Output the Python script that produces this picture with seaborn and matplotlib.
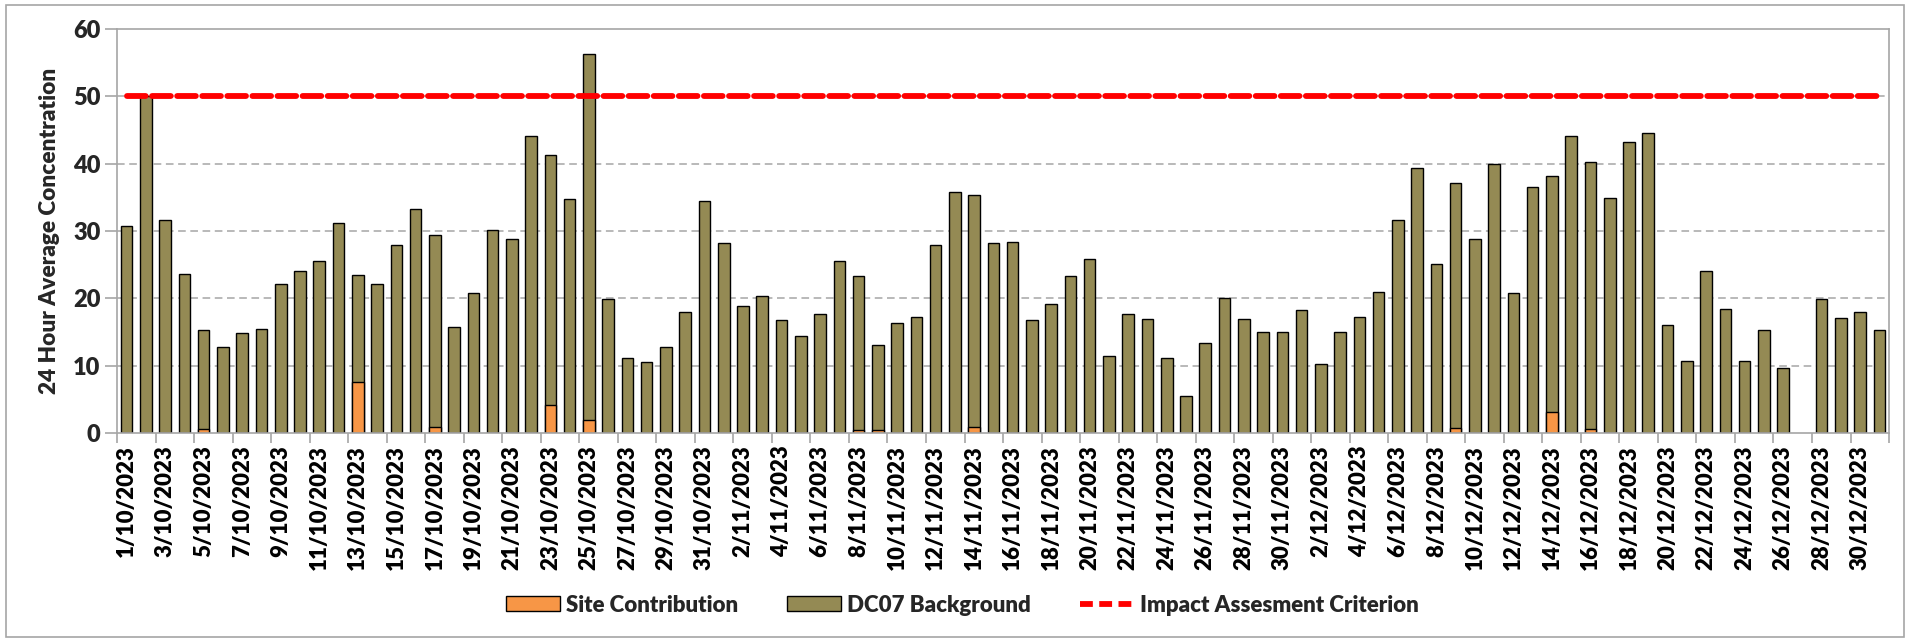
import numpy as np
import pandas as pd
import matplotlib
matplotlib.use("Agg")
import matplotlib.pyplot as plt
import seaborn as sns
from matplotlib.patches import Patch, Rectangle
from matplotlib.lines import Line2D

# ---------------- data ----------------
dates = [f"{d.day}/{d.month}/{d.year}" for d in pd.date_range("2023-10-01", "2023-12-31", freq="D")]

site_contribution = [
    0, 0, 0, 0, 0.6, 0, 0, 0, 0, 0,
    0, 0, 7.6, 0, 0, 0, 0.9, 0, 0, 0,
    0, 0, 4.1, 0, 1.9, 0, 0, 0, 0, 0,
    0, 0, 0, 0, 0, 0, 0, 0, 0.5, 0.4,
    0, 0, 0, 0, 0.9, 0, 0, 0, 0, 0,
    0, 0, 0, 0, 0, 0, 0, 0, 0, 0,
    0, 0, 0, 0, 0, 0, 0, 0, 0, 0.8,
    0, 0, 0, 0, 3.1, 0, 0.6, 0, 0, 0,
    0, 0, 0, 0, 0, 0, 0, np.nan, 0, 0,
    0, 0,
]

dc07_background = [
    30.8, 50.0, 31.7, 23.6, 14.7, 12.8, 14.8, 15.5, 22.2, 24.0,
    25.6, 31.2, 15.8, 22.2, 27.9, 33.2, 28.5, 15.7, 20.8, 30.2,
    28.8, 44.1, 37.2, 34.7, 54.4, 19.9, 11.1, 10.5, 12.7, 17.9,
    34.5, 28.2, 18.8, 20.3, 16.8, 14.4, 17.6, 25.6, 22.8, 12.7,
    16.3, 17.3, 27.9, 35.8, 34.5, 28.2, 28.4, 16.8, 19.2, 23.3,
    25.8, 11.4, 17.7, 17.0, 11.1, 5.5, 13.3, 20.1, 17.0, 15.0,
    15.0, 18.3, 10.3, 15.0, 17.3, 21.0, 31.7, 39.3, 25.1, 36.3,
    28.8, 40.0, 20.8, 36.5, 35.1, 44.1, 39.6, 34.9, 43.2, 44.5,
    16.0, 10.7, 24.0, 18.4, 10.7, 15.3, 9.6, np.nan, 19.9, 17.1,
    17.9, 15.3,
]

criterion = 50
y_ticks = [0, 10, 20, 30, 40, 50, 60]

labels = ["Site Contribution", "DC07 Background", "Impact Assesment Criterion"]

# ---------------- styling ----------------
C_SITE = "#F79646"
C_BG = "#948A54"
C_RED = "#FF0000"
C_GRID = "#A6A6A6"
W = "heavy"

sns.set_theme(style="white")
plt.rcParams["font.family"] = ["Lato", "DejaVu Sans"]
plt.rcParams["font.weight"] = W

df = pd.DataFrame({
    "date": dates,
    "site": site_contribution,
    "background": dc07_background,
})
df["total"] = df["site"] + df["background"]
df["crit"] = criterion

fig = plt.figure(figsize=(19.06, 6.39), dpi=100)
ax = fig.add_axes([0.0614, 0.3224, 0.9297, 0.6322])

# stacked bars: total (olive) then site contribution (orange) at the bottom
sns.barplot(data=df, x="date", y="total", order=dates, color=C_BG, saturation=1,
            width=0.6, edgecolor="black", linewidth=1.0, ax=ax, errorbar=None)
sns.barplot(data=df, x="date", y="site", order=dates, color=C_SITE, saturation=1,
            width=0.6, edgecolor="black", linewidth=1.0, ax=ax, errorbar=None)

# criterion line
ax.plot(np.arange(len(dates)), df["crit"], color=C_RED, lw=4.2,
        linestyle=(0, (3.2, 1.1)), dash_capstyle="round", solid_capstyle="round", zorder=5)

# axes limits/grid
ax.set_xlim(-0.5, len(dates) - 0.5)
ax.set_ylim(0, 60)
ax.set_yticks(y_ticks)
for v in y_ticks[1:-1]:
    ax.axhline(v, color=C_GRID, lw=1.1, linestyle=(0, (5, 3)), zorder=0)
ax.set_axisbelow(True)

for s in ax.spines.values():
    s.set_color(C_GRID)
    s.set_linewidth(1.2)

ax.set_xticks(np.arange(0, len(dates), 2))
ax.set_xticklabels(dates[::2], rotation=90, fontsize=16, fontweight=W)
ax.set_xticks(np.arange(-0.5, len(dates), 2), minor=True)
ax.tick_params(axis="x", which="major", length=0, pad=9, colors="black")
ax.tick_params(axis="x", which="minor", length=7, width=1.2, color=C_GRID, direction="out", bottom=True)
ax.tick_params(axis="y", which="major", length=9, width=1.2, color=C_GRID, direction="out",
               left=True, labelsize=17, pad=3)
for t in ax.get_yticklabels():
    t.set_fontweight(W)

ax.set_xlabel("")
ax.set_ylabel("24 Hour Average Concentration", fontsize=16.3, fontweight=W, labelpad=9)

handles = [
    Patch(facecolor=C_SITE, edgecolor="black", linewidth=1.0),
    Patch(facecolor=C_BG, edgecolor="black", linewidth=1.0),
    Line2D([0], [0], color=C_RED, lw=4.2, linestyle=(0, (2.2, 1.1))),
]
leg = fig.legend(handles, labels, loc="center", bbox_to_anchor=(0.505, 0.053), ncol=3,
                 frameon=False, fontsize=16, handlelength=2.4, handleheight=0.65,
                 handletextpad=0.3, columnspacing=2.2)
for t in leg.get_texts():
    t.set_fontweight(W)

# outer chart border
fig.add_artist(Rectangle((0.003, 0.003), 0.996, 0.989, transform=fig.transFigure,
                         fill=False, edgecolor=C_GRID, lw=1.2))

fig.savefig("out.png", dpi=100)
